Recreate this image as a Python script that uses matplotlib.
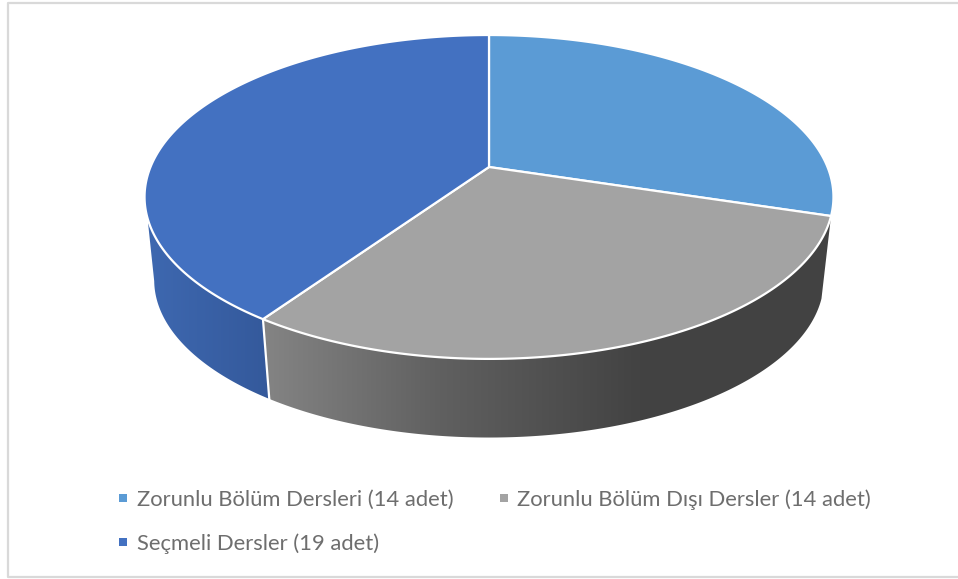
import matplotlib
matplotlib.use('Agg')
import matplotlib.pyplot as plt
from matplotlib.patches import Polygon
from matplotlib.colors import LinearSegmentedColormap
import numpy as np

labels = ['Zorunlu Bölüm Dersleri (14 adet)', 'Zorunlu Bölüm Dışı Dersler (14 adet)', 'Seçmeli Dersler (19 adet)']
values = [14, 14, 19]
colors = ['#5B9BD5', '#A3A3A3', '#4371C1']

# apex of the pie and the perspective of the top face, in pixels
CX, CY = 489, 167
PERSP = 0.185
RX, RY = 338.5, 156.4
# bottom face is a bit smaller and shifted down
BOTTOM_SCALE = 0.972
BOTTOM_SHIFT = 84
# where the rim leaves the silhouette on the left side (degrees clockwise from top)
TOP_LIMIT = 252
BOTTOM_LIMIT = 259


def top_face(t):
    t = np.radians(t)
    u, v = np.sin(t), np.cos(t)
    d = 1 + PERSP * v
    return CX + RX * u / d, CY - RY * v / d


def bottom_face(t):
    x, y = top_face(t)
    return CX + (x - CX) * BOTTOM_SCALE, CY + (y - CY) * BOTTOM_SCALE + BOTTOM_SHIFT


def gradient_fill(ax, pts, cmap, x0, x1, zorder):
    poly = Polygon(pts, closed=True, fc='none', ec='none', transform=ax.transData)
    ax.add_patch(poly)
    grad = np.linspace(0, 1, 256).reshape(1, -1)
    ys = pts[:, 1]
    im = ax.imshow(grad, cmap=cmap, extent=(x0, x1, ys.max(), ys.min()), aspect='auto', zorder=zorder,
                   interpolation='bilinear')
    im.set_clip_path(poly)


fig = plt.figure(figsize=(9.58, 5.79), dpi=100)
ax = fig.add_axes([0, 0, 1, 1])

# chart frame, the right side is cut off in the picture
ax.plot([958, 8.5, 8.5, 958], [2.5, 2.5, 577, 577], color='#D9D9D9', lw=1.6, zorder=1)

angles = np.concatenate([[0], np.cumsum(values) / np.sum(values) * 360])

gray_side = LinearSegmentedColormap.from_list('g', [(0, '#848484'), (0.31, '#606060'), (0.66, '#434343'), (1, '#424242')])
blue_side = LinearSegmentedColormap.from_list('b', ['#3E68B0', '#34599B'])

# rim of the two visible slices
a, b = angles[1], angles[2]
t = np.linspace(a, b, 200)
pts = np.column_stack(top_face(t))
pts = np.vstack([pts, np.column_stack(bottom_face(t[::-1]))])
gradient_fill(ax, pts, gray_side, top_face(b)[0], top_face(a)[0], 2)

a = angles[2]
t1 = np.linspace(a, TOP_LIMIT, 100)
t2 = np.linspace(BOTTOM_LIMIT, a, 100)
pts = np.vstack([np.column_stack(top_face(t1)), np.column_stack(bottom_face(t2))])
gradient_fill(ax, pts, blue_side, pts[:, 0].min(), pts[:, 0].max(), 2)

x0, y0 = top_face(a)
x1, y1 = bottom_face(a)
ax.plot([x0, x1], [y0, y1], color='white', lw=1.6, zorder=3)

# top face
for i in range(len(values)):
    t = np.linspace(angles[i], angles[i + 1], 200)
    x, y = top_face(t)
    pts = np.column_stack([np.r_[CX, x], np.r_[CY, y]])
    ax.add_patch(Polygon(pts, closed=True, fc=colors[i], ec='white', lw=1.6, joinstyle='round', zorder=4))

# legend
legend_pos = [(123.5, 498, 137), (504.5, 498, 517), (123.5, 542, 137)]
for i in range(len(labels)):
    mx, my, tx = legend_pos[i]
    ax.plot([mx], [my], marker='s', ms=5.8, mew=0, color=colors[i], zorder=5)
    ax.text(tx, my + 8, labels[i], fontsize=15.85, family='Lato', color='#6E6E6E', va='baseline', ha='left')

ax.set_xlim(0, 958)
ax.set_ylim(579, 0)
ax.axis('off')
plt.savefig('out.png', dpi=100, facecolor='white')
